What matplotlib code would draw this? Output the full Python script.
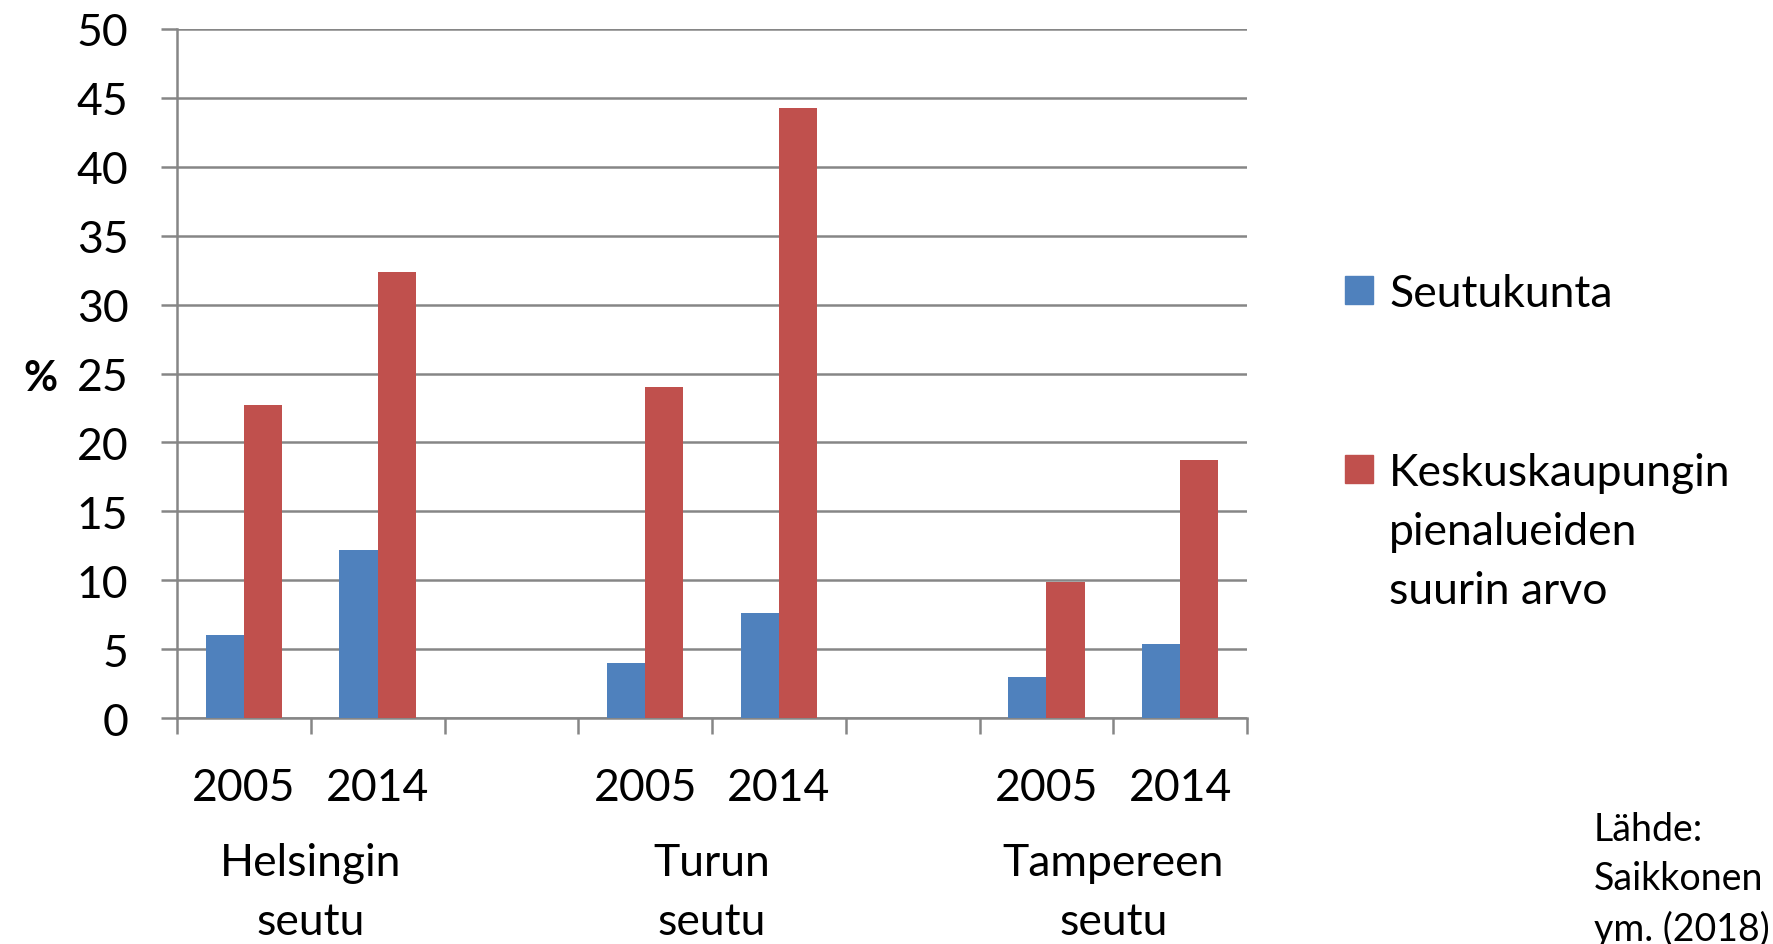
import numpy as np
import matplotlib
matplotlib.use("Agg")
import matplotlib.pyplot as plt
from matplotlib.patches import Rectangle
import matplotlib.transforms as mtransforms

plt.rcParams['font.family'] = ['Lato', 'DejaVu Sans']

# data
years = ["2005", "2014", "", "2005", "2014", "", "2005", "2014"]
regions = ["Helsingin\nseutu", "Turun\nseutu", "Tampereen\nseutu"]
seutukunta = [6.0, 12.2, np.nan, 4.0, 7.6, np.nan, 2.95, 5.4]
keskus = [22.7, 32.4, np.nan, 24.0, 44.3, np.nan, 9.85, 18.7]
series_names = ["Seutukunta", "Keskuskaupungin\npienalueiden\nsuurin arvo"]
source = "Lähde:\nSaikkonen\nym. (2018)"

BLUE = "#4F81BD"
RED = "#C0504D"
GRID = "#868686"

W, H = 1773, 945
fig = plt.figure(figsize=(W / 100, H / 100), dpi=100)
# axes box in pixels: x 177..1247, y 30..719
ax = fig.add_axes([177 / W, 1 - 719 / H, (1247 - 177) / W, (719 - 30) / H])

x = np.arange(len(years))
bw = 0.286
ax.bar(x - bw / 2, seutukunta, bw, color=BLUE, zorder=3)
ax.bar(x + bw / 2, keskus, bw, color=RED, zorder=3)

ax.set_xlim(-0.5, len(years) - 0.5)
ax.set_ylim(0, 50)

# y axis
ax.set_yticks(np.arange(0, 51, 5))
ax.tick_params(axis='y', direction='out', length=11.5, width=1.8, color=GRID,
               pad=23.5, labelsize=32)
ax.yaxis.grid(True, color=GRID, lw=1.8, zorder=0)
ax.set_axisbelow(True)

# x axis: boundary ticks, labels on slot centers
ax.set_xticks(np.arange(-0.5, len(years), 1.0))
ax.set_xticklabels([])
ax.tick_params(axis='x', which='major', direction='out', length=11.5,
               width=1.8, color=GRID)
ax.set_xticks(x, minor=True)
ax.set_xticklabels(years, minor=True)
ax.tick_params(axis='x', which='minor', length=0, pad=35, labelsize=32)

for s in ['top', 'right']:
    ax.spines[s].set_visible(False)
for s in ['left', 'bottom']:
    ax.spines[s].set_color(GRID)
    ax.spines[s].set_linewidth(1.8)

# region labels under the years
trans = mtransforms.blended_transform_factory(ax.transData, fig.transFigure)
for i, name in enumerate(regions):
    ax.text(3 * i + 0.5, 1 - 843 / H, name, transform=trans, ha='center',
            va='top', fontsize=32, linespacing=1.55)

# % label
fig.text(40 / W, 1 - 379 / H, "%", ha='center', va='center',
         fontsize=30, fontweight='bold')

# legend drawn by hand
sq = 28
for name, col, ytop in [(series_names[0], BLUE, 277), (series_names[1], RED, 456)]:
    fig.patches.append(Rectangle((1345 / W, 1 - (ytop + sq) / H), sq / W, sq / H,
                                 transform=fig.transFigure, color=col))
    fig.text(1389 / W, 1 - (ytop - 3) / H, name, ha='left', va='top',
             fontsize=32, linespacing=1.55)

# source
fig.text(1594 / W, 1 - 812 / H, source, ha='left', va='top',
         fontsize=27, linespacing=1.45)

fig.savefig("out.png", dpi=100, facecolor='white')
